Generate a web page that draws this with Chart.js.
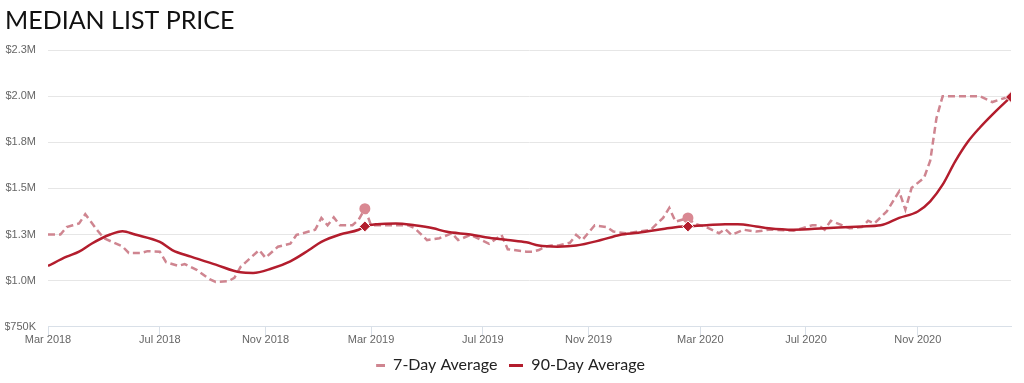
<!DOCTYPE html>
<html><head><meta charset="utf-8">
<script src="https://cdn.jsdelivr.net/npm/chart.js@4/dist/chart.umd.min.js"></script>
<style>html,body{margin:0;padding:0;background:#fff;}#wrap{width:1024px;height:383px;position:relative;}</style>
</head><body><div id="wrap"><canvas id="c"></canvas></div>
<script>
// x positions are week indices counted from the first week of March 2018
const tickWeeks = [0, 18, 35, 52, 70, 87, 105, 122, 140];
const tickLabels = ['Mar 2018', 'Jul 2018', 'Nov 2018', 'Mar 2019', 'Jul 2019', 'Nov 2019', 'Mar 2020', 'Jul 2020', 'Nov 2020'];

const weeks7 = [0,2,3,4,5,6,8,9,12,13,15,16,18,19,21,22,24,26,27,29,30,31,34,35,37,39,40,41,43,44,45,46,47,49,50,51,52,55,58,59,61,63,65,66,68,71,73,74,77,78,79,80,81,82,84,85,86,88,90,91,93,95,97,99,100,101,103,104,106,108,109,110,112,114,116,117,120,123,124,125,126,129,131,132,133,135,137,138,139,141,142,143,144,147,150,152,154,155];
const values7 = [1.25,1.25,1.29,1.30,1.31,1.36,1.27,1.23,1.185,1.15,1.15,1.16,1.157,1.10,1.08,1.09,1.057,1.008,0.993,0.997,1.015,1.075,1.166,1.124,1.184,1.20,1.248,1.257,1.276,1.34,1.30,1.343,1.30,1.30,1.33,1.39,1.30,1.30,1.30,1.285,1.22,1.23,1.257,1.22,1.248,1.20,1.248,1.17,1.157,1.157,1.166,1.184,1.19,1.19,1.205,1.248,1.22,1.30,1.29,1.266,1.257,1.266,1.276,1.34,1.394,1.32,1.34,1.31,1.29,1.257,1.28,1.248,1.276,1.266,1.276,1.276,1.27,1.30,1.30,1.276,1.325,1.284,1.29,1.325,1.31,1.375,1.484,1.385,1.503,1.557,1.65,1.88,2.0,2.0,2.0,1.968,1.99,1.99];

const weeks90 = [0,3,5,7,10,12,14,18,20,23,27,31,33,36,39,42,44,47,50,51,53,56,59,62,64,68,71,74,77,79,82,85,89,92,95,99,101,103,106,109,111,114,116,120,125,131,134,137,140,142,144,146,148,150,152,154,155];
const values90 = [1.08,1.13,1.157,1.20,1.25,1.268,1.25,1.21,1.166,1.13,1.087,1.045,1.042,1.066,1.105,1.166,1.21,1.25,1.276,1.294,1.306,1.31,1.30,1.284,1.266,1.25,1.233,1.22,1.208,1.19,1.184,1.19,1.22,1.248,1.26,1.28,1.29,1.294,1.30,1.306,1.306,1.294,1.284,1.276,1.284,1.294,1.30,1.34,1.375,1.43,1.52,1.645,1.75,1.83,1.90,1.965,1.995];

const markerWeeks7 = [51, 103];
const markerWeeks90 = [51, 103, 155];

const C7 = '#cf8590';
const C7dot = '#d98892';
const C90 = '#b31d2d';

function legendImg(color, dashed) {
  const cv = document.createElement('canvas');
  cv.width = 14; cv.height = 3;
  const g = cv.getContext('2d');
  g.fillStyle = color;
  if (dashed) g.fillRect(5, 0, 9, 3); else g.fillRect(0, 0, 14, 3);
  return cv;
}

const ds7 = weeks7.map((w, i) => ({x: w, y: values7[i] * 1e6}));
const ds90 = weeks90.map((w, i) => ({x: w, y: values90[i] * 1e6}));

new Chart(document.getElementById('c'), {
  type: 'line',
  data: {
    datasets: [
      {
        label: '7-Day Average', data: ds7, order: 1,
        borderColor: C7, borderWidth: 2.5, borderDash: [7, 4], tension: 0,
        pointRadius: ctx => markerWeeks7.includes(weeks7[ctx.dataIndex]) ? 5.5 : 0,
        pointStyle: 'circle', pointBackgroundColor: C7dot, pointBorderWidth: 0,
        fill: false
      },
      {
        label: '90-Day Average', data: ds90, order: 0,
        borderColor: C90, borderWidth: 2.5, cubicInterpolationMode: 'monotone',
        pointRadius: ctx => markerWeeks90.includes(weeks90[ctx.dataIndex]) ? 5.5 : 0,
        pointStyle: 'rectRot', pointBackgroundColor: C90, pointBorderColor: '#fff', pointBorderWidth: 1,
        fill: false
      }
    ]
  },
  options: {
    responsive: true, maintainAspectRatio: false, animation: false,
    layout: {padding: {left: 5, right: 13, top: 0, bottom: 0}},
    scales: {
      x: {
        type: 'linear', min: 0, max: 155,
        afterBuildTicks: s => { s.ticks = tickWeeks.map(v => ({value: v})); },
        ticks: {
          autoSkip: false, maxRotation: 0, padding: -2,
          color: '#666', font: {family: 'Liberation Sans', size: 11},
          callback: v => tickLabels[tickWeeks.indexOf(v)]
        },
        grid: {drawOnChartArea: false, drawTicks: true, tickLength: 9, color: '#d9e0e8'},
        border: {display: true, color: '#d9e0e8'}
      },
      y: {
        min: 750000, max: 2250000,
        afterFit: s => { s.width = 43; },
        ticks: {
          stepSize: 250000, padding: 12, color: '#666', font: {family: 'Liberation Sans', size: 11},
          callback: v => v >= 1e6 ? '$' + (v / 1e6).toFixed(1) + 'M' : '$' + Math.round(v / 1000) + 'K'
        },
        grid: {drawTicks: false, color: '#e6e6e6'},
        border: {display: false}
      }
    },
    plugins: {
      title: {
        display: true, text: 'MEDIAN LIST PRICE', align: 'start', color: '#111',
        font: {family: 'Lato', size: 25, weight: 'normal'},
        padding: {top: 6, bottom: 14}
      },
      legend: {
        position: 'bottom',
        labels: {
          usePointStyle: true, pointStyleWidth: 14, padding: 12, color: '#222',
          font: {family: 'Lato', size: 16},
          generateLabels: () => [
            {text: '7-Day Average', pointStyle: legendImg(C7, true), fillStyle: C7, strokeStyle: C7, lineWidth: 0, hidden: false, datasetIndex: 0, fontColor: '#222'},
            {text: '90-Day Average', pointStyle: legendImg(C90, false), fillStyle: C90, strokeStyle: C90, lineWidth: 0, hidden: false, datasetIndex: 1, fontColor: '#222'}
          ]
        }
      },
      tooltip: {enabled: false}
    }
  }
});
</script>
</body></html>
